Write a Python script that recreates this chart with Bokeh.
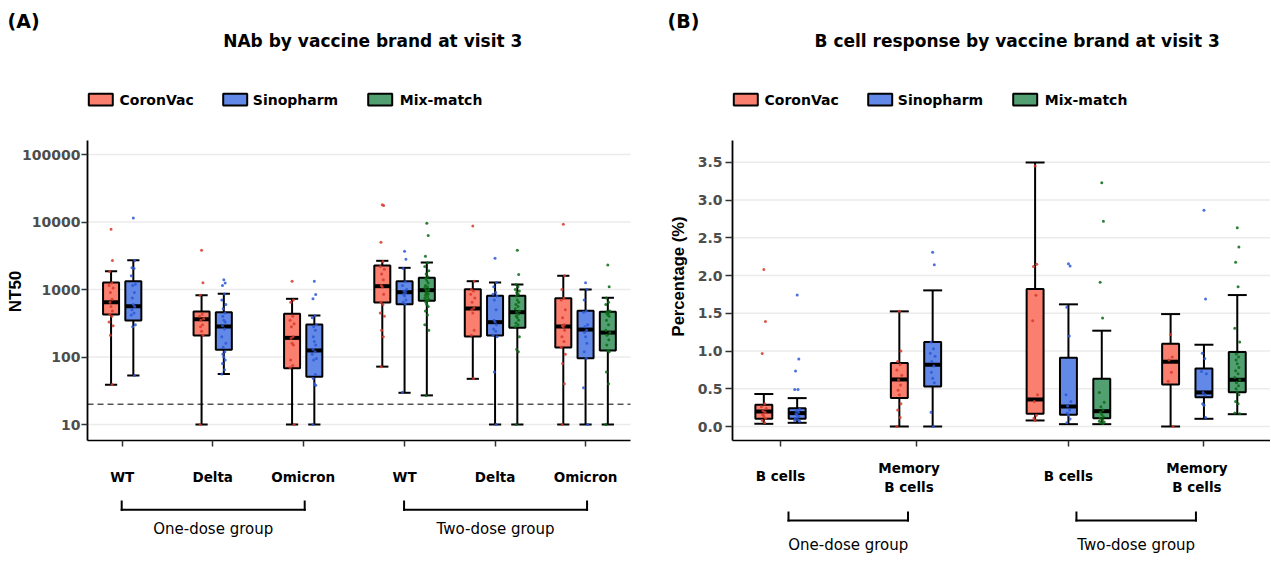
import numpy as np
from bokeh.plotting import figure
from bokeh.models import Range1d, FixedTicker, NumeralTickFormatter, Label, BoxAnnotation
from bokeh.layouts import row
from bokeh.embed import file_html
from bokeh.resources import INLINE

FONT = "DejaVu Sans"
VFONT = "Liberation Sans"

# ---------------- data ----------------
BRANDS = ["CoronVac", "Sinopharm", "Mix-match"]
BRAND_FILL = {"CoronVac": "#FA7F6F", "Sinopharm": "#6389E8", "Mix-match": "#52A072"}
BRAND_DOT = {"CoronVac": "#D8392B", "Sinopharm": "#2B58D6", "Mix-match": "#0A6A14"}

# Panel A: NAb (NT50)
NAB_POS = [1, 2, 3, 4.12, 5.12, 6.12]
NAB_LABELS = ["WT", "Delta", "Omicron", "WT", "Delta", "Omicron"]
NAB_GROUPS = ["One-dose group", "Two-dose group"]
NAB_BOX_CAT = [0, 0, 1, 1, 2, 2, 3, 3, 3, 4, 4, 4, 5, 5, 5]
NAB_BOX_BRAND = ["CoronVac", "Sinopharm", "CoronVac", "Sinopharm", "CoronVac", "Sinopharm",
                 "CoronVac", "Sinopharm", "Mix-match", "CoronVac", "Sinopharm", "Mix-match",
                 "CoronVac", "Sinopharm", "Mix-match"]
NAB_LOW = [38.7, 53, 10, 56, 10, 10, 72, 29.5, 27, 47.5, 10, 10, 10, 10, 10]
NAB_Q1 = [427, 348, 208, 128, 68, 51, 641, 605, 680, 201, 208, 271, 138, 96, 125]
NAB_MED = [648, 566, 363, 283, 192, 125, 1120, 912, 977, 523, 328, 461, 283, 255, 230]
NAB_Q3 = [1270, 1327, 472, 461, 437, 303, 2270, 1327, 1490, 1009, 807, 807, 745, 483, 467]
NAB_HIGH = [1866, 2716, 824, 864, 728, 412, 2660, 2094, 2510, 1327, 1270, 1186, 1597, 1000, 754]
NAB_POINTS = [
    [7800, 2700, 1850, 1250, 1150, 1050, 900, 720, 650, 560, 480, 430, 400, 330, 290, 210, 39],
    [11500, 2700, 2100, 2050, 1600, 1200, 1150, 900, 750, 600, 560, 500, 450, 420, 300, 280, 53],
    [3800, 1260, 820, 430, 400, 370, 350, 300, 280, 240, 210, 10],
    [1400, 1250, 1150, 860, 700, 600, 520, 450, 400, 350, 330, 290, 260, 200, 160, 140, 120,
     110, 100, 90, 80, 65, 56],
    [1330, 700, 650, 400, 350, 310, 280, 200, 190, 160, 150, 90, 75, 70, 10],
    [1330, 840, 730, 410, 380, 300, 280, 250, 200, 170, 150, 130, 120, 110, 95, 90, 55, 48,
     40, 38, 10],
    [18000, 17500, 5000, 2600, 2200, 2000, 1700, 1400, 1150, 1100, 850, 650, 600, 450, 400,
     250, 200, 72],
    [3700, 2800, 2050, 1300, 1150, 1000, 950, 900, 850, 800, 700, 650, 610, 30],
    [9600, 6300, 3100, 2500, 2200, 1900, 1700, 1550, 1450, 1350, 1250, 1150, 1100, 1050, 1000,
     980, 950, 900, 880, 850, 820, 780, 750, 720, 700, 680, 650, 600, 560, 480, 420, 300, 250, 27],
    [8700, 1330, 1000, 950, 850, 750, 650, 530, 500, 450, 250, 210, 48],
    [2900, 1270, 1100, 900, 850, 800, 700, 500, 350, 330, 300, 260, 240, 210, 200, 60, 10],
    [3800, 1670, 1190, 1100, 1000, 950, 900, 850, 800, 700, 650, 600, 560, 520, 480, 460, 430,
     400, 380, 350, 320, 300, 280, 200, 130, 120, 10],
    [9300, 1600, 1000, 750, 700, 500, 380, 300, 290, 280, 250, 200, 170, 140, 110, 80, 40, 10],
    [1260, 1000, 700, 480, 460, 300, 280, 250, 230, 200, 160, 120, 96, 35, 10],
    [2300, 1100, 750, 650, 600, 480, 470, 450, 440, 420, 400, 350, 300, 250, 230, 210, 180,
     150, 125, 120, 60, 40, 10],
]
NAB_YTICKS = [10, 100, 1000, 10000, 100000]
NAB_LOD = 20

# Panel B: B cell percentage
BC_POS = [1, 2, 3.125, 4.125]
BC_LABELS = ["B cells", "Memory\nB cells", "B cells", "Memory\nB cells"]
BC_GROUPS = ["One-dose group", "Two-dose group"]
BC_BOX_CAT = [0, 0, 1, 1, 2, 2, 2, 3, 3, 3]
BC_BOX_BRAND = ["CoronVac", "Sinopharm", "CoronVac", "Sinopharm",
                "CoronVac", "Sinopharm", "Mix-match", "CoronVac", "Sinopharm", "Mix-match"]
BC_LOW = [0.035, 0.049, 0.0, 0.0, 0.08, 0.031, 0.031, 0.0, 0.102, 0.163]
BC_Q1 = [0.102, 0.102, 0.376, 0.53, 0.168, 0.155, 0.11, 0.557, 0.389, 0.455]
BC_MED = [0.199, 0.177, 0.623, 0.818, 0.358, 0.265, 0.203, 0.858, 0.451, 0.619]
BC_Q3 = [0.287, 0.243, 0.84, 1.118, 1.821, 0.911, 0.632, 1.096, 0.769, 0.986]
BC_HIGH = [0.43, 0.376, 1.525, 1.803, 3.496, 1.618, 1.269, 1.489, 1.083, 1.741]
BC_POINTS = [
    [2.078, 1.392, 0.968, 0.30, 0.26, 0.24, 0.21, 0.19, 0.16, 0.14, 0.11, 0.08, 0.05],
    [1.741, 0.893, 0.734, 0.49, 0.49, 0.23, 0.21, 0.19, 0.17, 0.15, 0.13, 0.11, 0.09, 0.08, 0.07],
    [1.525, 1.0, 0.86, 0.82, 0.75, 0.68, 0.62, 0.55, 0.48, 0.42, 0.30, 0.22, 0.12, 0.0],
    [2.307, 2.144, 1.12, 1.03, 0.97, 0.93, 0.86, 0.80, 0.72, 0.64, 0.58, 0.19, 0.0],
    [3.45, 2.15, 2.12, 1.74, 1.40, 0.42, 0.33, 0.15, 0.11, 0.08],
    [2.157, 2.126, 1.58, 1.20, 0.42, 0.33, 0.27, 0.22, 0.18, 0.15, 0.10, 0.05],
    [3.227, 2.718, 1.909, 1.436, 0.45, 0.32, 0.26, 0.22, 0.19, 0.16, 0.13, 0.11, 0.09, 0.07,
     0.06, 0.05, 0.04],
    [1.22, 0.92, 0.88, 0.72, 0.60, 0.0],
    [2.864, 1.688, 0.97, 0.90, 0.73, 0.70, 0.45, 0.42, 0.3, 0.28, 0.12],
    [2.634, 2.378, 2.175, 1.852, 1.30, 1.12, 0.96, 0.92, 0.88, 0.83, 0.78, 0.74, 0.70, 0.65,
     0.62, 0.58, 0.54, 0.50, 0.46, 0.42, 0.33, 0.30, 0.18, 0.17],
]
BC_YTICKS = [0.0, 0.5, 1.0, 1.5, 2.0, 2.5, 3.0, 3.5]

# ---------------- layout (page pixels) ----------------
H = 562
PLOT_TOP, PLOT_BOTTOM = 140, 440
JIT = [0, 0.6, -0.6, 0.3, -0.9, 0.9, -0.3, 0.45, -0.45]


def sy(py):
    return H - py


class Panel:
    def __init__(self, ox, width, x_ref_px, x_unit, y_of, axis_px, right_px, log):
        self.ox, self.width = ox, width
        self.x_ref_px, self.x_unit = x_ref_px, x_unit
        self.y_of = y_of
        self.axis_px, self.right_px = axis_px, right_px
        kw = dict(y_axis_type="log") if log else {}
        self.p = figure(width=width, height=H,
                        x_range=Range1d(self.x_of(ox), self.x_of(ox + width)),
                        y_range=Range1d(y_of(H), y_of(0)),
                        output_backend="svg", toolbar_location=None, min_border=0,
                        min_border_left=0, min_border_right=0, min_border_top=0,
                        min_border_bottom=0, **kw)

    def x_of(self, px):
        return 1 + (px - self.x_ref_px) / self.x_unit

    def px_of(self, x):
        return self.x_ref_px + (x - 1) * self.x_unit

    def sx(self, px):
        return px - self.ox


def setup_axes(P, yticks, yfmt, xticks, tick_out, standoff):
    p = P.p
    p.outline_line_color = None
    p.xgrid.visible = False
    p.ygrid.visible = False
    x_left, x_right = P.x_of(P.axis_px), P.x_of(P.right_px)
    y_bot, y_top = P.y_of(PLOT_BOTTOM), P.y_of(PLOT_TOP)
    # horizontal grid lines at the tick values
    p.segment(x0=[x_left] * len(yticks), x1=[x_right] * len(yticks), y0=yticks, y1=yticks,
              line_color="#EBEBEB", line_width=1.3)
    ya, xa = p.yaxis[0], p.xaxis[0]
    ya.fixed_location = x_left
    ya.bounds = (y_bot, y_top)
    xa.fixed_location = y_bot
    xa.bounds = (x_left, x_right)
    for ax in (xa, ya):
        ax.axis_line_color = "black"
        ax.major_tick_line_color = "#333333"
        ax.major_tick_line_width = 1.5
        ax.major_tick_in = 0
        ax.minor_tick_line_color = None
        ax.major_label_text_font = FONT
        ax.major_label_text_font_style = "bold"
    ya.axis_line_width = 1.8
    xa.axis_line_width = 1.6
    ya.ticker = FixedTicker(ticks=yticks)
    ya.formatter = NumeralTickFormatter(format=yfmt)
    ya.major_tick_out = tick_out
    ya.major_label_standoff = standoff
    ya.major_label_text_font_size = "14px"
    ya.major_label_text_color = "#4D4D4D"
    xa.ticker = FixedTicker(ticks=xticks)
    xa.major_tick_out = 6
    xa.major_label_standoff = 22
    xa.major_label_text_font_size = "13.5px"
    xa.major_label_text_color = "black"


def draw_boxes(p, pos, cat, brand, low, q1, med, q3, high, pts, box_w, cap_w, spacing, jit_amp):
    xs = []
    for i, c in enumerate(cat):
        same = [j for j, cc in enumerate(cat) if cc == c]
        k = same.index(i)
        n = len(same)
        xs.append(pos[c] + (k - (n - 1) / 2) * spacing)
    xs = np.array(xs)
    fills = [BRAND_FILL[b] for b in brand]
    p.segment(x0=xs, y0=low, x1=xs, y1=q1, line_color="black", line_width=2)
    p.segment(x0=xs, y0=q3, x1=xs, y1=high, line_color="black", line_width=2)
    p.segment(x0=xs - cap_w / 2, y0=high, x1=xs + cap_w / 2, y1=high, line_color="black", line_width=2)
    p.segment(x0=xs - cap_w / 2, y0=low, x1=xs + cap_w / 2, y1=low, line_color="black", line_width=2)
    p.vbar(x=xs, width=box_w, bottom=q1, top=q3, fill_color=fills, line_color="black", line_width=2)
    p.segment(x0=xs - box_w / 2, y0=med, x1=xs + box_w / 2, y1=med, line_color="black", line_width=4)
    px, py, pc = [], [], []
    for i, vals in enumerate(pts):
        for k, v in enumerate(vals):
            px.append(xs[i] + JIT[k % len(JIT)] * jit_amp)
            py.append(v)
            pc.append(BRAND_DOT[brand[i]])
    p.scatter(x=px, y=py, size=3, color=pc, alpha=0.85, line_width=0)


def text(p, s, x, y, size, bold=False, align="left", baseline="middle", angle=0.0,
         x_units="screen", x_offset=0, line_height=1.2, font=FONT):
    p.add_layout(Label(x=x, y=y, x_units=x_units, y_units="screen", text=s,
                       text_font=font, text_font_size=size,
                       text_font_style="bold" if bold else "normal",
                       text_align=align, text_baseline=baseline, angle=angle,
                       x_offset=x_offset, text_color="black", text_line_height=line_height))


def box(p, left, right, top, bottom, fill, line_color=None, line_width=0):
    p.add_layout(BoxAnnotation(left=left, right=right, top=top, bottom=bottom,
                               left_units="screen", right_units="screen",
                               top_units="screen", bottom_units="screen",
                               fill_color=fill, fill_alpha=1.0,
                               line_color=line_color, line_width=line_width, line_alpha=1.0))


def legend(P, brands):
    sw_off = [1.3, 135.7, 280.7]
    tx_off = [32, 165.3, 312.3]
    for i, b in enumerate(brands):
        x0 = P.sx(P.axis_px + sw_off[i])
        box(P.p, x0, x0 + 24, sy(93.3), sy(105), BRAND_FILL[b], "black", 2)
        text(P.p, b, P.sx(P.axis_px + tx_off[i]), sy(99.5), "14px", bold=True)


def bracket(p, x0, x1, y_top, y_line):
    box(p, x0, x1, sy(y_line - 1), sy(y_line + 1), "black")
    box(p, x0, x0 + 2, sy(y_top), sy(y_line + 1), "black")
    box(p, x1 - 2, x1, sy(y_top), sy(y_line + 1), "black")


# ---------------- Panel A ----------------
A = Panel(ox=0, width=640, x_ref_px=121.7, x_unit=90.5,
          y_of=lambda py: 10 ** (1 + (424 - py) / 67.5), axis_px=87, right_px=630, log=True)
pA = A.p
setup_axes(A, NAB_YTICKS, "0", NAB_POS, 6, 1)
pA.xaxis[0].major_label_overrides = {pp: lab for pp, lab in zip(NAB_POS, NAB_LABELS)}
pA.segment(x0=[A.x_of(A.axis_px)], x1=[A.x_of(A.right_px)], y0=[NAB_LOD], y1=[NAB_LOD],
           line_color="black", line_width=1, line_dash="6 4")
draw_boxes(pA, NAB_POS, NAB_BOX_CAT, NAB_BOX_BRAND, NAB_LOW, NAB_Q1, NAB_MED, NAB_Q3,
           NAB_HIGH, NAB_POINTS, 0.177, 0.135, 0.246, 0.025)

text(pA, "(A)", A.sx(7), sy(20.3), "19px", bold=True)
text(pA, "NAb by vaccine brand at visit 3", A.sx(222.7), sy(40.3), "17px", bold=True)
legend(A, BRANDS)
text(pA, "NT50", A.sx(14.5), sy(291), "17px", bold=True, align="center",
     angle=np.pi / 2, font=VFONT)
for g in range(2):
    x0 = A.sx(A.px_of(NAB_POS[3 * g])) - 1.5
    x1 = A.sx(A.px_of(NAB_POS[3 * g + 2])) + 2.5
    bracket(pA, x0, x1, 500, 509.3)
    text(pA, NAB_GROUPS[g], (x0 + x1) / 2, sy(528.7), "15px", align="center")

# ---------------- Panel B ----------------
B = Panel(ox=640, width=630, x_ref_px=780, x_unit=135.5,
          y_of=lambda py: (426 - py) / 75.5, axis_px=732, right_px=1270, log=False)
pB = B.p
setup_axes(B, BC_YTICKS, "0.0", BC_POS, 7, 3)
pB.xaxis[0].major_label_overrides = {pp: "" for pp in BC_POS}
draw_boxes(pB, BC_POS, BC_BOX_CAT, BC_BOX_BRAND, BC_LOW, BC_Q1, BC_MED, BC_Q3,
           BC_HIGH, BC_POINTS, 0.125, 0.14, 0.246, 0.02)

text(pB, "(B)", B.sx(667), sy(20.3), "19px", bold=True)
text(pB, "B cell response by vaccine brand at visit 3", B.sx(814), sy(40.3), "17px", bold=True)
legend(B, BRANDS)
text(pB, "Percentage (%)", B.sx(677.5), sy(276), "16.6px", bold=True, align="center",
     angle=np.pi / 2, font=VFONT)
for i, lab in enumerate(BC_LABELS):
    multi = "\n" in lab
    text(pB, lab, BC_POS[i], sy(477 if multi else 475.5), "13.5px", bold=True,
         align="center", x_units="data", x_offset=-7 if multi else 0, line_height=1.23)
for g in range(2):
    x0 = B.sx(B.px_of(BC_POS[2 * g])) + 7
    x1 = B.sx(B.px_of(BC_POS[2 * g + 1])) - 7
    bracket(pB, x0, x1, 511, 520)
    text(pB, BC_GROUPS[g], (x0 + x1) / 2, sy(544), "15px", align="center")

layout = row(pA, pB)
open("out.html", "w").write(file_html(layout, INLINE))
